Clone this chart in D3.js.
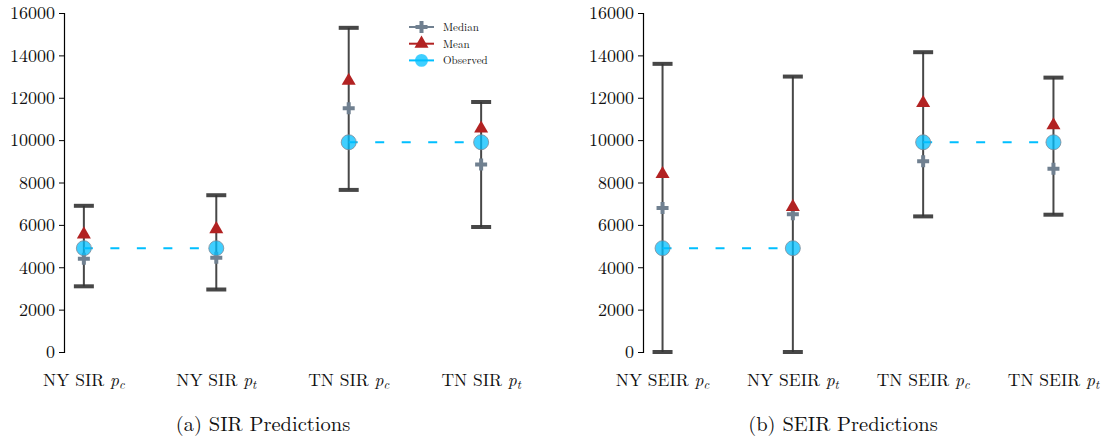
<!DOCTYPE html>
<html lang="en">
<head>
	<meta charset="utf-8">
	<script src="https://d3js.org/d3.v7.min.js"></script>
	<style type="text/css">
		body {
			margin: 0;
			background: #fff;
		}
	</style>
</head>
<body>
	<script type="text/javascript">
	var width = 1108;
	var height = 440;
	var font = "'Latin Modern Roman', 'Liberation Serif', serif";

	// categories: name + subscript of p
	var sirNames = ["NY SIR", "NY SIR", "TN SIR", "TN SIR"];
	var seirNames = ["NY SEIR", "NY SEIR", "TN SEIR", "TN SEIR"];
	var subs = ["c", "t", "c", "t"];

	// SIR panel values
	var sirLower = [3100, 2950, 7650, 5900];
	var sirUpper = [6900, 7400, 15300, 11800];
	var sirMean = [5550, 5800, 12800, 10550];
	var sirMedian = [4400, 4450, 11500, 8850];
	var sirObserved = [4900, 4900, 9900, 9900];

	// SEIR panel values
	var seirLower = [0, 0, 6400, 6480];
	var seirUpper = [13600, 13000, 14150, 12950];
	var seirMean = [8400, 6850, 11750, 10700];
	var seirMedian = [6800, 6500, 9000, 8650];
	var seirObserved = [4900, 4900, 9900, 9900];

	var yTicks = [0, 2000, 4000, 6000, 8000, 10000, 12000, 14000, 16000];
	var captions = ["(a) SIR Predictions", "(b) SEIR Predictions"];
	var legendText = ["Median", "Mean", "Observed"];

	var cMedian = "#708090", cMean = "#b22222", cObs = "#00bfff", cBar = "#333333";

	var svg = d3.select("body").append("svg")
		.attr("width", width)
		.attr("height", height);

	var y = d3.scaleLinear().domain([0, 16000]).range([352, 13]);

	var plus = d3.symbol().type(d3.symbolCross).size(80);
	var tri = d3.symbol().type(d3.symbolTriangle).size(85);

	function panel(x, names, lower, upper, mean, median, observed, caption, capX) {
		var g = svg.append("g");
		var idx = d3.range(names.length);

		// left axis, spine only
		var ax = g.append("g")
			.attr("transform", "translate(" + x.range()[0] + ",0)")
			.call(d3.axisLeft(y).tickValues(yTicks).tickSize(5).tickPadding(4).tickFormat(d3.format("d")));
		ax.select(".domain").attr("stroke", "#000").attr("stroke-width", 1.2);
		ax.selectAll(".tick line").attr("stroke", "#000");
		ax.selectAll(".tick text")
			.style("font-family", font)
			.style("font-size", "18px")
			.attr("fill", "#111");

		// x labels
		var lab = g.selectAll("text.xl")
			.data(idx)
			.enter()
			.append("text")
			.attr("class", "xl")
			.attr("x", function(i) { return x(i); })
			.attr("y", 386)
			.attr("text-anchor", "middle")
			.style("font-family", font)
			.style("font-size", "17.5px")
			.attr("fill", "#111");
		lab.append("tspan").text(function(i) { return names[i] + " "; });
		lab.append("tspan").style("font-style", "italic").text("p");
		lab.append("tspan").style("font-style", "italic").style("font-size", "12.5px").attr("dy", 3).text(function(i) { return subs[i]; });

		// error bars
		g.selectAll("line.eb")
			.data(idx)
			.enter()
			.append("line")
			.attr("x1", function(i) { return x(i); })
			.attr("x2", function(i) { return x(i); })
			.attr("y1", function(i) { return y(lower[i]); })
			.attr("y2", function(i) { return y(upper[i]); })
			.attr("stroke", cBar)
			.attr("stroke-opacity", 0.9)
			.attr("stroke-width", 2);

		var caps = [];
		idx.forEach(function(i) { caps.push([i, lower[i]]); caps.push([i, upper[i]]); });
		g.selectAll("line.cap")
			.data(caps)
			.enter()
			.append("line")
			.attr("x1", function(d) { return x(d[0]) - 10; })
			.attr("x2", function(d) { return x(d[0]) + 10; })
			.attr("y1", function(d) { return y(d[1]); })
			.attr("y2", function(d) { return y(d[1]); })
			.attr("stroke", cBar)
			.attr("stroke-opacity", 0.9)
			.attr("stroke-width", 4);

		// median
		g.selectAll("path.med")
			.data(idx)
			.enter()
			.append("path")
			.attr("d", plus)
			.attr("transform", function(i) { return "translate(" + x(i) + "," + y(median[i]) + ")"; })
			.attr("fill", cMedian);

		// mean
		g.selectAll("path.mean")
			.data(idx)
			.enter()
			.append("path")
			.attr("d", tri)
			.attr("transform", function(i) { return "translate(" + x(i) + "," + y(mean[i]) + ")"; })
			.attr("fill", cMean);

		// observed dashed connections (pairs)
		var line = d3.line().x(function(i) { return x(i); }).y(function(i) { return y(observed[i]); });
		[[0, 1], [2, 3]].forEach(function(p) {
			g.append("path")
				.attr("d", line(p))
				.attr("fill", "none")
				.attr("stroke", cObs)
				.attr("stroke-width", 2)
				.attr("stroke-dasharray", "9,17.5");
		});

		g.selectAll("circle.obs")
			.data(idx)
			.enter()
			.append("circle")
			.attr("cx", function(i) { return x(i); })
			.attr("cy", function(i) { return y(observed[i]); })
			.attr("r", 7.5)
			.attr("fill", cObs)
			.attr("fill-opacity", 0.75)
			.attr("stroke", "#7a8a99")
			.attr("stroke-opacity", 0.8)
			.attr("stroke-width", 1);

		svg.append("text")
			.attr("x", capX)
			.attr("y", 431)
			.attr("text-anchor", "middle")
			.style("font-family", font)
			.style("font-size", "20.5px")
			.attr("fill", "#111")
			.text(caption);
	}

	var xSir = d3.scaleLinear().domain([-0.15, 3.15]).range([64, 501]);
	var xSeir = d3.scaleLinear().domain([-0.15, 3.15]).range([643, 1073]);

	panel(xSir, sirNames, sirLower, sirUpper, sirMean, sirMedian, sirObserved, captions[0], 263);
	panel(xSeir, seirNames, seirLower, seirUpper, seirMean, seirMedian, seirObserved, captions[1], 843);

	// legend in SIR panel
	var legend = svg.append("g")
		.selectAll("g")
		.data(legendText)
		.enter()
		.append("g")
		.attr("transform", function(d, i) { return "translate(409," + (27 + i * 16.7) + ")"; });

	var legColors = [cMedian, cMean, cObs];
	legend.append("line")
		.attr("x1", 0).attr("x2", 25)
		.attr("stroke", function(d, i) { return legColors[i]; })
		.attr("stroke-width", 2);
	legend.append("path")
		.attr("d", function(d, i) { return i == 0 ? plus() : i == 1 ? tri() : d3.symbol().type(d3.symbolCircle).size(130)(); })
		.attr("transform", "translate(12.5,0)")
		.attr("fill", function(d, i) { return legColors[i]; })
		.attr("fill-opacity", function(d, i) { return i == 2 ? 0.75 : 1; });
	legend.append("text")
		.attr("x", 34)
		.attr("dy", "0.35em")
		.style("font-family", font)
		.style("font-size", "11px")
		.attr("fill", "#111")
		.text(function(d) { return d; });
	</script>
</body>
</html>
